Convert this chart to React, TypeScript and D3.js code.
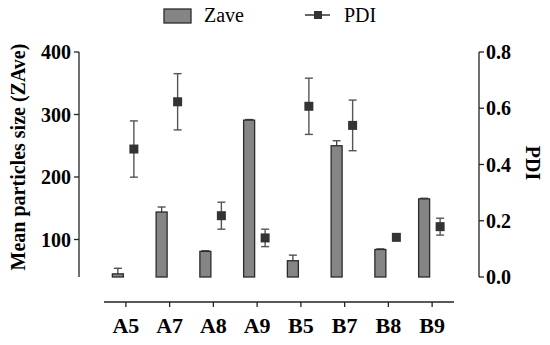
import React, { useEffect, useRef } from 'react';
import * as d3 from 'd3';

const categories = ['A5', 'A7', 'A8', 'A9', 'B5', 'B7', 'B8', 'B9'];
const zave = [45, 144, 81, 291, 66, 250, 84, 165];
const zaveErr = [9, 8, 1, 1, 9, 8, 1, 1];
const pdi = [0.455, 0.623, 0.218, 0.139, 0.607, 0.539, 0.141, 0.179];
const pdiErr = [0.1, 0.1, 0.048, 0.031, 0.1, 0.09, 0, 0.03];
const leftTicks = [100, 200, 300, 400];
const rightTicks = [0, 0.2, 0.4, 0.6, 0.8];

const FONT = '"Liberation Serif", "Times New Roman", serif';

const App = () => {
    const ref = useRef<SVGSVGElement>(null);

    useEffect(() => {
        const svg = d3.select(ref.current);
        svg.selectAll('*').remove();

        const top = 52, bottom = 277;
        const x = d3.scaleBand().domain(categories).range([104, 454]);
        const yL = d3.scaleLinear().domain([40, 400]).range([bottom, top]);
        const yR = d3.scaleLinear().domain([0, 0.8]).range([bottom, top]);
        const cx = (c: string) => (x(c) as number) + x.bandwidth() / 2;

        // left axis
        const gl = svg.append('g').attr('transform', 'translate(79,0)');
        gl.append('line').attr('y1', top).attr('y2', bottom).attr('stroke', '#222').attr('stroke-width', 1.3);
        gl.selectAll('.t').data(leftTicks).enter().append('line')
            .attr('x1', -5).attr('x2', 0)
            .attr('y1', d => yL(d)).attr('y2', d => yL(d))
            .attr('stroke', '#222').attr('stroke-width', 1.3);
        gl.selectAll('text').data(leftTicks).enter().append('text')
            .attr('x', -8).attr('y', d => yL(d)).attr('dy', '0.35em')
            .attr('text-anchor', 'end')
            .attr('font-family', FONT).attr('font-weight', 'bold').attr('font-size', 20)
            .text(d => d);

        // right axis
        const gr = svg.append('g').attr('transform', 'translate(479,0)');
        gr.append('line').attr('y1', top).attr('y2', bottom).attr('stroke', '#222').attr('stroke-width', 1.3);
        gr.selectAll('.t').data(rightTicks).enter().append('line')
            .attr('x1', 0).attr('x2', 5)
            .attr('y1', d => yR(d)).attr('y2', d => yR(d))
            .attr('stroke', '#222').attr('stroke-width', 1.3);
        gr.selectAll('text').data(rightTicks).enter().append('text')
            .attr('x', 7).attr('y', d => yR(d)).attr('dy', '0.35em')
            .attr('font-family', FONT).attr('font-weight', 'bold').attr('font-size', 20)
            .text(d => d3.format('.1f')(d));

        // x axis
        const gx = svg.append('g').attr('transform', 'translate(0,302)');
        gx.append('line').attr('x1', 104).attr('x2', 454).attr('stroke', '#222').attr('stroke-width', 1.3);
        gx.selectAll('.t').data(categories).enter().append('line')
            .attr('x1', d => cx(d)).attr('x2', d => cx(d))
            .attr('y1', 0).attr('y2', 5)
            .attr('stroke', '#222').attr('stroke-width', 1.3);
        gx.selectAll('text').data(categories).enter().append('text')
            .attr('x', d => cx(d)).attr('y', 31)
            .attr('text-anchor', 'middle')
            .attr('font-family', FONT).attr('font-weight', 'bold').attr('font-size', 22)
            .text(d => d);

        // axis titles
        svg.append('text')
            .attr('transform', 'translate(25,157) rotate(-90)')
            .attr('text-anchor', 'middle')
            .attr('font-family', FONT).attr('font-weight', 'bold').attr('font-size', 20)
            .text('Mean particles size (ZAve)');
        svg.append('text')
            .attr('transform', 'translate(526,163) rotate(90)')
            .attr('text-anchor', 'middle')
            .attr('font-family', FONT).attr('font-weight', 'bold').attr('font-size', 20)
            .text('PDI');

        // bars with error bars
        const bw = 11;
        const bars = svg.append('g');
        categories.forEach((c, i) => {
            const bx = cx(c) - 8;
            const e = zaveErr[i];
            if (e > 0) {
                bars.append('line').attr('x1', bx).attr('x2', bx)
                    .attr('y1', yL(zave[i])).attr('y2', yL(zave[i] + e))
                    .attr('stroke', '#444').attr('stroke-width', 1.3);
                bars.append('line').attr('x1', bx - 4).attr('x2', bx + 4)
                    .attr('y1', yL(zave[i] + e)).attr('y2', yL(zave[i] + e))
                    .attr('stroke', '#444').attr('stroke-width', 1.3);
            }
            bars.append('rect')
                .attr('x', bx - bw / 2).attr('width', bw)
                .attr('y', yL(zave[i])).attr('height', bottom - yL(zave[i]))
                .attr('fill', '#858585').attr('stroke', '#2b2b2b').attr('stroke-width', 1.3);
        });

        // PDI points with error bars
        const pts = svg.append('g');
        categories.forEach((c, i) => {
            const px = cx(c) + 8;
            const e = pdiErr[i];
            if (e > 0) {
                pts.append('line').attr('x1', px).attr('x2', px)
                    .attr('y1', yR(pdi[i] - e)).attr('y2', yR(pdi[i] + e))
                    .attr('stroke', '#555').attr('stroke-width', 1.4);
                [pdi[i] - e, pdi[i] + e].forEach(v => {
                    pts.append('line').attr('x1', px - 4).attr('x2', px + 4)
                        .attr('y1', yR(v)).attr('y2', yR(v))
                        .attr('stroke', '#555').attr('stroke-width', 1.4);
                });
            }
            pts.append('rect')
                .attr('x', px - 4.5).attr('y', yR(pdi[i]) - 4.5)
                .attr('width', 9).attr('height', 9)
                .attr('fill', '#333');
        });

        // legend
        const lg = svg.append('g');
        lg.append('rect').attr('x', 164).attr('y', 9).attr('width', 27).attr('height', 14)
            .attr('fill', '#858585').attr('stroke', '#2b2b2b').attr('stroke-width', 1.3);
        lg.append('text').attr('x', 204).attr('y', 22)
            .attr('font-family', FONT).attr('font-size', 20).text('Zave');
        lg.append('line').attr('x1', 305).attr('x2', 330).attr('y1', 15).attr('y2', 15)
            .attr('stroke', '#333').attr('stroke-width', 1.5);
        lg.append('rect').attr('x', 314).attr('y', 11).attr('width', 8).attr('height', 8).attr('fill', '#333');
        lg.append('text').attr('x', 344).attr('y', 22)
            .attr('font-family', FONT).attr('font-size', 20).text('PDI');
    }, []);

    return (
        <svg ref={ref} width="550" height="345"
            style={{ position: 'absolute', left: 0, top: 0, background: '#fff' }} />
    );
};

export default App;
